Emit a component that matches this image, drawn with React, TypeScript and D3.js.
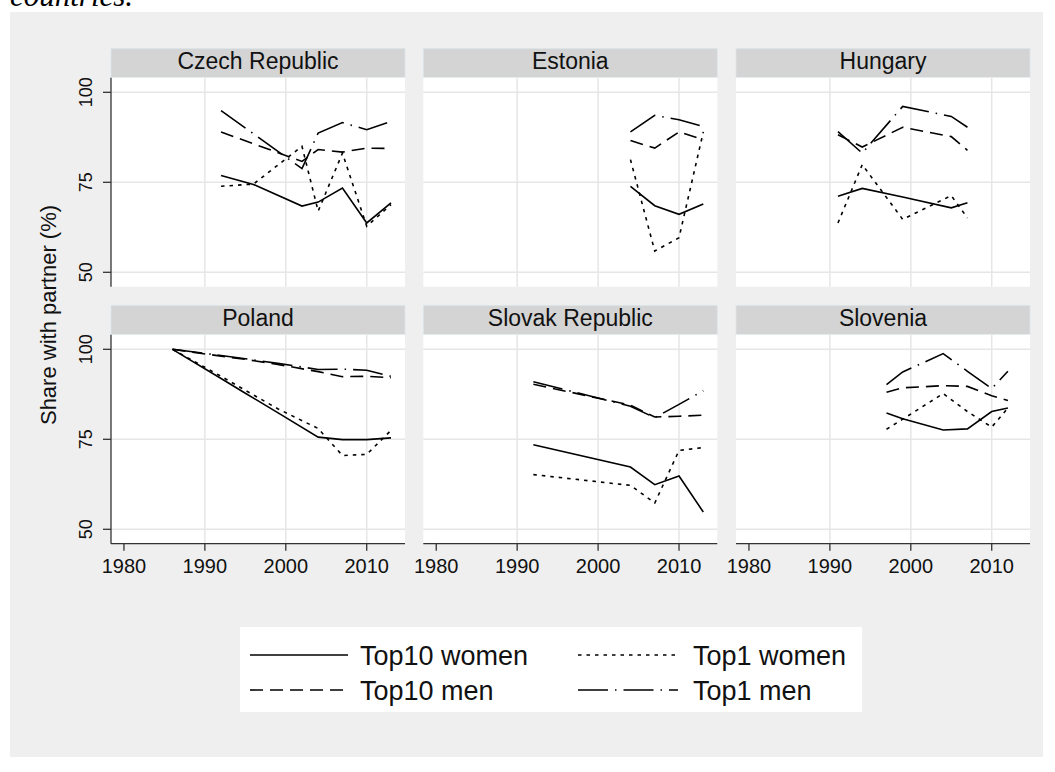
import React from "react";
import * as d3 from "d3";

// ---------- data ----------
const countries = ["Czech Republic", "Estonia", "Hungary", "Poland", "Slovak Republic", "Slovenia"];
const seriesNames = ["Top10 women", "Top1 women", "Top10 men", "Top1 men"];
const xTicks = [1980, 1990, 2000, 2010];
const yTicks = [50, 75, 100];

const yearsCZ = [1992, 1996, 2002, 2004, 2007, 2010, 2013];
const top10WomenCZ = [76.9, 74.4, 68.4, 69.5, 73.4, 63.7, 69.3];
const top1WomenCZ = [73.9, 74.5, 85.0, 67.0, 83.1, 62.8, 68.8];
const top10MenCZ = [89.0, 85.7, 80.8, 84.1, 83.4, 84.5, 84.4];
const top1MenCZ = [94.9, 88.5, 78.8, 88.7, 91.6, 89.6, 91.9];

const yearsEE = [2004, 2007, 2010, 2013];
const top10WomenEE = [73.9, 68.5, 66.1, 69.0];
const top1WomenEE = [81.3, 55.9, 59.6, 89.0];
const top10MenEE = [86.6, 84.5, 89.0, 86.8];
const top1MenEE = [89.0, 93.6, 92.4, 90.5];

const yearsHU = [1991, 1994, 1999, 2005, 2007];
const top10WomenHU = [71.1, 73.3, 70.9, 67.9, 69.3];
const top1WomenHU = [63.7, 79.9, 64.7, 71.3, 65.1];
const top10MenHU = [88.2, 84.8, 90.3, 87.7, 83.9];
const top1MenHU = [89.1, 83.1, 96.1, 93.3, 90.3];

const yearsPL = [1986, 1992, 1995, 1999, 2004, 2007, 2010, 2013];
const top10WomenPL = [100, 91.9, 87.8, 82.4, 75.6, 74.9, 74.9, 75.4];
const top1WomenPL = [100, 92.5, 88.6, 83.5, 78.0, 70.5, 70.8, 77.5];
const top10MenPL = [100, 98.1, 97.2, 95.8, 93.8, 92.4, 92.5, 92.1];
const top1MenPL = [100, 98.3, 97.4, 96.1, 94.4, 94.5, 94.2, 92.5];

const yearsSK = [1992, 2004, 2007, 2010, 2013];
const top10WomenSK = [73.5, 67.3, 62.4, 64.8, 54.8];
const top1WomenSK = [65.2, 62.2, 57.3, 71.9, 72.7];
const top10MenSK = [90.3, 84.5, 81.2, 81.4, 81.7];
const top1MenSK = [91.0, 84.2, 81.0, 84.7, 88.5];

const yearsSI = [1997, 1999, 2004, 2007, 2010, 2012];
const top10WomenSI = [82.3, 80.7, 77.6, 77.9, 82.7, 83.7];
const top1WomenSI = [77.8, 80.6, 87.7, 82.7, 78.4, 83.7];
const top10MenSI = [88.1, 89.3, 89.9, 89.7, 87.1, 85.8];
const top1MenSI = [90.2, 93.7, 98.8, 93.9, 89.1, 93.9];

const panelYears = [yearsCZ, yearsEE, yearsHU, yearsPL, yearsSK, yearsSI];
const panelSeries = [
  [top10WomenCZ, top1WomenCZ, top10MenCZ, top1MenCZ],
  [top10WomenEE, top1WomenEE, top10MenEE, top1MenEE],
  [top10WomenHU, top1WomenHU, top10MenHU, top1MenHU],
  [top10WomenPL, top1WomenPL, top10MenPL, top1MenPL],
  [top10WomenSK, top1WomenSK, top10MenSK, top1MenSK],
  [top10WomenSI, top1WomenSI, top10MenSI, top1MenSI],
];

// ---------- styles ----------
const dashes = ["", "3.5,5", "13,7", "30,7,1.5,7"];
const FONT = "'Liberation Sans', Arial, Helvetica, sans-serif";

const W = 1055;
const H = 772;
const panelW = 294;
const plotH = 209;
const stripH = 29.4;
const colLeft = [111, 423.3, 736];
const rowStripTop = [48.3, 305.3];

export default function App() {
  const yScaleFor = (top: number) =>
    d3.scaleLinear().domain([46, 104.06]).range([top + plotH, top]);

  return (
    <svg
      width={W}
      height={H}
      style={{ position: "absolute", left: 0, top: 0, display: "block" }}
      fontFamily={FONT}
    >
      <rect x={0} y={0} width={W} height={H} fill="#ffffff" />
      <text x={10} y={6} fontFamily="'Liberation Serif', 'Times New Roman', serif" fontStyle="italic" fontSize={31} fill="#000">
        countries.
      </text>
      <rect x={10} y={12} width={1033} height={745} fill="#efefef" />

      {countries.map((name, i) => {
        const col = i % 3;
        const row = Math.floor(i / 3);
        const left = colLeft[col];
        const stripTop = rowStripTop[row];
        const plotTop = stripTop + stripH;
        const x = d3.scaleLinear().domain([1978.4, 2014.73]).range([left, left + panelW]);
        const y = yScaleFor(plotTop);
        const years = panelYears[i];
        const line = d3
          .line<number>()
          .defined((v) => v != null)
          .x((_, k) => x(years[k]))
          .y((v) => y(v));
        return (
          <g key={name}>
            <rect x={left} y={stripTop} width={panelW} height={stripH} fill="#d4d4d4" stroke="#dce7ec" strokeWidth={0.8} />
            <text x={left + panelW / 2} y={stripTop + 21} textAnchor="middle" fontSize={23} fill="#111">
              {name}
            </text>
            <rect x={left} y={plotTop} width={panelW} height={plotH} fill="#ffffff" />
            {yTicks.map((t) => (
              <line key={"gy" + t} x1={left} x2={left + panelW} y1={y(t)} y2={y(t)} stroke="#e6e6e6" strokeWidth={1.5} />
            ))}
            {xTicks.filter((t) => t !== 1980).map((t) => (
              <line key={"gx" + t} x1={x(t)} x2={x(t)} y1={plotTop} y2={plotTop + plotH} stroke="#e6e6e6" strokeWidth={1.5} />
            ))}
            {panelSeries[i].map((vals, s) => (
              <path
                key={seriesNames[s]}
                d={line(vals) || ""}
                fill="none"
                stroke="#000"
                strokeWidth={1.6}
                strokeDasharray={dashes[s] || undefined}
                strokeLinejoin="miter"
              />
            ))}
            {col === 0 && (
              <g>
                <line x1={left} x2={left} y1={plotTop} y2={plotTop + plotH} stroke="#333" strokeWidth={1.3} />
                {yTicks.map((t) => (
                  <g key={"ty" + t}>
                    <line x1={left - 8} x2={left} y1={y(t)} y2={y(t)} stroke="#333" strokeWidth={1.3} />
                    <text transform={`translate(92,${y(t)}) rotate(-90)`} textAnchor="middle" fontSize={18} fill="#111">
                      {t}
                    </text>
                  </g>
                ))}
              </g>
            )}
            {row === 1 && (
              <g>
                <line x1={left} x2={left + panelW} y1={plotTop + plotH} y2={plotTop + plotH} stroke="#333" strokeWidth={1.3} />
                {xTicks.map((t) => (
                  <g key={"tx" + t}>
                    <line x1={x(t)} x2={x(t)} y1={plotTop + plotH} y2={plotTop + plotH + 7} stroke="#333" strokeWidth={1.3} />
                    <text x={x(t)} y={573} textAnchor="middle" fontSize={20} fill="#111">
                      {t}
                    </text>
                  </g>
                ))}
              </g>
            )}
          </g>
        );
      })}

      <text transform="translate(56,315) rotate(-90)" textAnchor="middle" fontSize={22} fill="#111">
        Share with partner (%)
      </text>

      {/* legend */}
      <rect x={240} y={627} width={622} height={85} fill="#ffffff" />
      {seriesNames.map((s, k) => {
        const c = k % 2;
        const r = Math.floor(k / 2);
        const lx = c === 0 ? 250 : 578;
        const len = c === 0 ? 98 : 100;
        const tx = c === 0 ? 360 : 693;
        const ly = r === 0 ? 655 : 690;
        return (
          <g key={"lg" + s}>
            <line x1={lx} x2={lx + len} y1={ly} y2={ly} stroke="#000" strokeWidth={1.6} strokeDasharray={dashes[k] || undefined} />
            <text x={tx} y={ly + 9.5} fontSize={27} fill="#111">
              {s}
            </text>
          </g>
        );
      })}
    </svg>
  );
}
